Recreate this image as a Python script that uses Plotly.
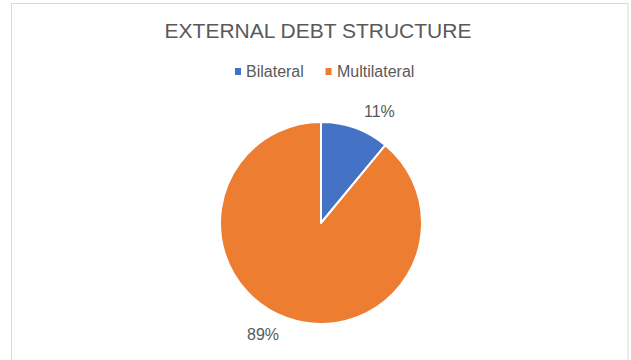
import plotly.graph_objects as go

# External debt composition (percent of total)
categories = ["Bilateral", "Multilateral"]
shares = [11, 89]
colors = ["#4472C4", "#ED7D31"]

W, H = 631, 360
text_color = "#595959"
font_family = "Liberation Sans, Arial, sans-serif"


def px_x(v):
    return v / W


def px_y(v):
    return 1 - v / H


fig = go.Figure()

# Pie body: starts at 12 o'clock and runs clockwise
fig.add_trace(go.Pie(
    labels=categories,
    values=shares,
    marker=dict(colors=colors, line=dict(color="white", width=2)),
    sort=False,
    direction="clockwise",
    rotation=0,
    textinfo="none",
    hoverinfo="label+percent",
    showlegend=False,
    domain=dict(x=[px_x(220), px_x(422)], y=[px_y(324), px_y(122)]),
))

# Percentage data labels placed outside each slice
total = sum(shares)
label_pos = [(379.5, 111), (262.5, 334)]
for v, (lx, ly) in zip(shares, label_pos):
    fig.add_annotation(
        x=px_x(lx), y=px_y(ly), xref="paper", yref="paper",
        text=f"{round(v / total * 100)}%", showarrow=False,
        font=dict(size=16, color=text_color, family=font_family),
        xanchor="center", yanchor="middle",
    )

# Compact legend: small square swatch followed by the category name
legend_x = [238, 328.5]
legend_y = 71.5
for name, col, sx in zip(categories, colors, legend_x):
    fig.add_shape(
        type="rect", xref="paper", yref="paper",
        x0=px_x(sx - 3), x1=px_x(sx + 3),
        y0=px_y(legend_y + 3.5), y1=px_y(legend_y - 3.5),
        line=dict(width=0), fillcolor=col,
    )
    fig.add_annotation(
        x=px_x(sx + 6), y=px_y(legend_y), xref="paper", yref="paper",
        text=name, showarrow=False,
        font=dict(size=16, color=text_color, family=font_family),
        xanchor="left", yanchor="middle",
    )

# Chart area frame
fig.add_shape(
    type="rect", xref="paper", yref="paper",
    x0=px_x(11.5), x1=px_x(628), y0=-0.2, y1=px_y(3.5),
    line=dict(color="#D9D9D9", width=1), fillcolor="rgba(0,0,0,0)",
    layer="below",
)

fig.update_layout(
    width=W, height=H,
    margin=dict(l=0, r=0, t=0, b=0),
    paper_bgcolor="white", plot_bgcolor="white",
    title=dict(
        text="EXTERNAL DEBT STRUCTURE",
        x=px_x(318), xanchor="center", y=px_y(30.5), yanchor="middle",
        font=dict(size=21, color=text_color, family=font_family),
    ),
    showlegend=False,
)

fig.write_html("out.html")
